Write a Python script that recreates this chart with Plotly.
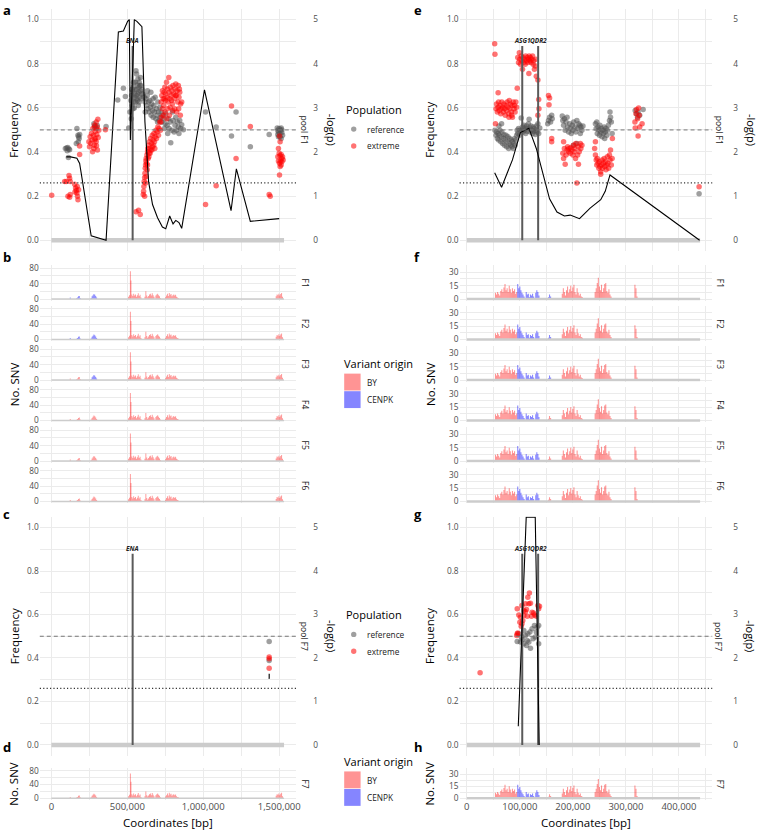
import plotly.graph_objects as go

W, H = 760, 833

# ---------------- data ----------------
CHR_IV_LEN = 1531933
CHR_IX_LEN = 439888
GENE_IV_NAMES = ["ENA"]
GENE_IV_POS = [535000]
GENE_IX_NAMES = ["ASG1", "QDR2"]
GENE_IX_POS = [104500, 134500]
GENE_HEIGHT = 0.88
NEUTRAL_FREQ = 0.5
SIG_LOGP = 1.30103

# chromosome IV, pool F1 : (position bp, allele frequency)
A_REF = [
    (92000, .416), (100000, .418), (108000, .42), (115000, .414), (120000, .41), (104000, .406), (112000, .375),
    (168000, .506), (175000, .476), (179000, .469), (183000, .461), (177000, .446), (186000, .479), (164000, .439),
    (280000, .528), (288000, .518), (295000, .506), (302000, .52), (284000, .512), (360000, .516),
    (437000, .636), (474000, .689), (487000, .651),
    (509000, .509), (517000, .581), (524000, .633), (528000, .656), (535000, .674), (539000, .693), (544000, .626),
    (548000, .663), (552000, .716), (557000, .768), (561000, .753), (563000, .683), (568000, .704), (570000, .731),
    (574000, .671), (576000, .693), (578000, .716), (581000, .648), (585000, .678), (587000, .738), (589000, .701),
    (594000, .663), (596000, .683), (533000, .611), (537000, .596), (546000, .648), (555000, .626), (559000, .656),
    (566000, .633), (572000, .611), (526000, .551), (550000, .683), (541000, .716), (578000, .626), (592000, .641),
    (531000, .683), (561000, .641), (583000, .701), (546000, .599), (568000, .663),
    (605000, .663), (611000, .648), (616000, .626), (622000, .641), (627000, .611), (631000, .656), (635000, .596),
    (640000, .626), (644000, .581), (648000, .633), (653000, .603), (657000, .566), (661000, .618), (666000, .588),
    (670000, .558), (675000, .611), (679000, .581), (683000, .648), (688000, .551), (692000, .596), (696000, .566),
    (701000, .626), (705000, .581), (709000, .543), (714000, .603), (718000, .558), (723000, .581), (727000, .536),
    (731000, .566), (740000, .551), (749000, .528), (753000, .573), (762000, .521), (771000, .551), (775000, .506),
    (784000, .536), (786000, .442), (793000, .499), (801000, .543), (808000, .491), (814000, .521), (823000, .499),
    (830000, .536), (836000, .513), (845000, .543), (851000, .506), (858000, .524), (869000, .501), (633000, .678),
    (655000, .671), (618000, .581), (670000, .641), (699000, .536), (744000, .506), (766000, .484), (797000, .581),
    (819000, .558), (840000, .484),
    (1015000, .581), (1085000, .513), (1186000, .473), (1216000, .581), (1310000, .424), (1434000, .479),
    (1487000, .509), (1491000, .499), (1495000, .491), (1500000, .506), (1504000, .484), (1508000, .499),
    (1513000, .509), (1517000, .488), (1522000, .476), (1506000, .469), (1495000, .469), (1513000, .461),
    (1491000, .479), (1517000, .501),
]
A_EXT = [
    (2000, .204),
    (87000, .266), (98000, .266), (116000, .293), (120000, .281), (124000, .266), (109000, .199), (120000, .195),
    (124000, .207), (153000, .254), (159000, .237), (164000, .225), (168000, .214), (172000, .199), (175000, .184),
    (179000, .229), (186000, .427), (186000, .389), (155000, .219), (170000, .244),
    (247000, .446), (251000, .424), (255000, .469), (260000, .439), (264000, .484), (268000, .454), (273000, .506),
    (277000, .476), (282000, .431), (284000, .521), (288000, .461), (290000, .494), (295000, .536), (295000, .446),
    (299000, .479), (301000, .513), (303000, .409), (306000, .548), (308000, .466), (312000, .499), (271000, .401),
    (280000, .416), (286000, .454), (297000, .428),
    (356000, .501),
    (605000, .207), (607000, .222), (609000, .244), (611000, .266), (614000, .284), (616000, .304), (618000, .326),
    (620000, .341), (622000, .359), (624000, .371), (627000, .349), (629000, .386), (631000, .319), (633000, .401),
    (635000, .416), (637000, .371), (640000, .431), (644000, .394), (646000, .446), (648000, .416), (653000, .461),
    (655000, .409), (659000, .439), (664000, .476), (666000, .424), (670000, .454), (675000, .484), (679000, .446),
    (683000, .469), (688000, .499), (692000, .461), (696000, .491), (701000, .513), (705000, .476), (709000, .506),
    (714000, .536), (718000, .499), (614000, .199), (620000, .259), (624000, .289), (633000, .341), (642000, .379),
    (650000, .394), (662000, .409), (673000, .431), (681000, .416),
    (723000, .626), (727000, .656), (731000, .678), (736000, .641), (740000, .611), (742000, .671), (747000, .693),
    (751000, .633), (753000, .663), (758000, .716), (762000, .648), (764000, .686), (768000, .626), (773000, .738),
    (775000, .671), (779000, .641), (784000, .693), (788000, .656), (793000, .678), (797000, .618), (801000, .701),
    (806000, .663), (810000, .641), (814000, .686), (819000, .708), (823000, .656), (827000, .678), (832000, .626),
    (836000, .701), (840000, .648), (845000, .671), (851000, .618), (858000, .626), (731000, .596), (749000, .581),
    (766000, .596), (782000, .603), (799000, .588), (812000, .596), (825000, .581), (838000, .596), (849000, .566),
    (738000, .566), (760000, .551), (777000, .566), (744000, .641), (791000, .633), (817000, .656), (843000, .686),
    (720000, .536), (725000, .558),
    (557000, .129), (574000, .136), (585000, .117),
    (1015000, .162), (1085000, .247), (1186000, .608), (1216000, .37), (1310000, .516), (1434000, .207), (1441000, .199),
    (1502000, .472), (1506000, .446), (1495000, .416), (1500000, .394), (1506000, .383), (1513000, .389),
    (1517000, .371), (1491000, .379), (1495000, .359), (1502000, .349), (1508000, .359), (1522000, .379),
    (1526000, .364), (1506000, .334), (1502000, .296), (1513000, .341), (1517000, .356),
]
A_LOGP = [
    (98000, 1.89), (127000, 1.89), (168000, 1.86), (186000, 1.74), (262000, 0.10), (360000, 0.0), (441000, 4.72),
    (474000, 4.74), (502000, 4.96), (513000, 5.0), (520000, 2.27), (546000, 5.0), (563000, 4.96), (596000, 4.84),
    (616000, 2.68), (640000, 1.33), (666000, 0.81), (699000, 0.51), (731000, 0.30), (753000, 0.26), (779000, 0.55),
    (801000, 0.37), (819000, 0.45), (840000, 0.40), (858000, 0.27), (1008000, 3.41), (1183000, 0.67),
    (1218000, 1.62), (1310000, 0.43), (1500000, 0.49),
]
# chromosome IV, pool F7
C_REF = [(1434000, .476), (1434000, .389)]
C_EXT = [(1434000, .404), (1434000, .396), (1434000, .353)]
C_LOGP = [(1434000, 1.64), (1434200, 1.52)]

# chromosome IX, pool F1
E_REF = [
    (53000, .499), (55000, .476), (56000, .491), (57500, .461), (59000, .484), (60000, .454), (61000, .476),
    (62500, .499), (64000, .446), (65000, .469), (66000, .491), (67500, .439), (69000, .461), (70000, .479),
    (71000, .431), (72500, .454), (74000, .476), (75000, .424), (76000, .446), (77500, .469), (79000, .416),
    (80000, .439), (81000, .461), (82500, .431), (84000, .454), (85000, .424), (86000, .446), (87500, .416),
    (89000, .439), (90000, .461), (91000, .431), (92500, .454), (94000, .476), (95000, .499), (96000, .484),
    (97500, .506), (99000, .476), (100000, .499), (65500, .528), (60500, .518),
    (102500, .554),
    (104000, .499), (105000, .513), (106000, .491), (107500, .521), (109000, .499), (110000, .509), (111000, .484),
    (112500, .518), (114000, .494), (115000, .506), (116000, .528), (117500, .548), (119000, .509), (120000, .491),
    (121000, .518), (122500, .499), (124000, .484), (125000, .513), (126000, .494), (127500, .506), (129000, .479),
    (130000, .499), (131000, .518), (132500, .491), (134000, .528), (135500, .484), (137500, .509),
    (152500, .528), (154000, .543), (156000, .558), (158000, .536), (160000, .566), (161000, .551),
    (180000, .563), (181000, .543), (182500, .521), (184000, .551), (185500, .499), (187000, .536), (189000, .558),
    (190000, .513), (192000, .491), (194000, .528), (195000, .506), (197000, .484), (199000, .521), (200000, .499),
    (201500, .536), (204000, .513), (205500, .491), (207500, .543), (209000, .506), (211000, .528), (213000, .521),
    (215000, .513), (217000, .499), (219000, .518), (201000, .431), (207500, .439), (214000, .484),
    (242500, .528), (244000, .506), (245000, .536), (246000, .484), (247500, .513), (249000, .499), (250000, .476),
    (251000, .521), (252500, .491), (254000, .506), (255000, .469), (256000, .499), (257500, .484), (259000, .513),
    (260000, .461), (261000, .491), (262500, .506), (264000, .476), (265000, .499), (267000, .521), (269000, .543),
    (270000, .581), (271000, .558), (272500, .536), (274000, .484),
    (317500, .588), (320000, .573), (323000, .581), (326000, .566), (332500, .593), (322000, .558),
    (438000, .211),
]
E_EXT = [
    (52500, .891), (53000, .843), (54000, .528), (59000, .668),
    (55000, .596), (56000, .618), (57500, .581), (59000, .603), (60000, .626), (61000, .588), (62500, .611),
    (64000, .573), (65000, .596), (66000, .626), (67500, .603), (69000, .581), (70000, .618), (71000, .596),
    (72500, .566), (74000, .611), (75000, .588), (76000, .626), (77500, .603), (79000, .573), (80000, .633),
    (81000, .596), (82500, .618), (84000, .581), (85000, .611), (86000, .558), (87500, .626), (89000, .596),
    (90000, .611), (91000, .581), (92500, .626), (94000, .603), (84500, .566), (79500, .558),
    (95000, .689),
    (96000, .828), (97500, .805), (99000, .850), (100000, .820), (101000, .798), (102500, .835), (104000, .813),
    (105000, .775), (106000, .828), (107500, .805), (109000, .820), (110000, .798), (111000, .835), (112500, .813),
    (114000, .828), (115000, .805), (116000, .820), (117000, .756), (117500, .835), (119000, .813), (120000, .828),
    (121000, .805), (122500, .820), (124000, .835), (125000, .798), (126000, .813), (127500, .775), (129000, .790),
    (130000, .820),
    (131000, .743), (134000, .726), (135500, .638), (136000, .596), (134000, .566),
    (154000, .656), (156000, .645), (155000, .614), (160000, .461), (160000, .446),
    (181000, .394), (182500, .371), (184000, .416), (185500, .344), (187000, .386), (189000, .409), (190000, .424),
    (192000, .401), (193000, .416), (195000, .394), (196000, .419), (198000, .409), (200000, .386), (201000, .431),
    (202500, .401), (204000, .416), (205500, .439), (207500, .259), (209000, .386), (210000, .424), (212000, .401),
    (214000, .439), (215000, .416), (217000, .431), (210500, .344), (182500, .446), (205000, .371),
    (241000, .416), (242500, .386), (244000, .364), (245000, .341), (246000, .371), (247500, .349), (249000, .326),
    (250000, .356), (251000, .334), (252500, .311), (254000, .341), (255000, .364), (256000, .326), (257500, .349),
    (259000, .371), (260000, .334), (261000, .356), (262500, .319), (264000, .341), (265000, .379), (266000, .349),
    (267500, .326), (269000, .386), (270000, .364), (271000, .409), (272500, .341), (274000, .371), (274500, .461),
    (242500, .446), (252500, .299),
    (317000, .536), (319000, .573), (320000, .593), (322000, .551), (324000, .599), (325000, .566), (326000, .513),
    (323000, .472), (330500, .528), (317500, .509),
    (438000, .243),
]
E_LOGP = [
    (52500, 1.53), (65500, 1.20), (76000, 1.52), (86000, 1.82), (101000, 2.44), (117000, 2.54), (131000, 2.08),
    (156000, 0.94), (170000, 0.64), (184000, 0.55), (195000, 0.57), (212500, 0.49), (232500, 0.73),
    (247000, 0.88), (252500, 0.92), (261000, 1.11), (270000, 1.48), (439000, 0.0),
]
# chromosome IX, pool F7
G_REF = [
    (95000, .476), (101000, .473), (107500, .465), (112500, .457), (120000, .445), (115000, .511), (123000, .534),
    (127500, .549), (132500, .541), (135500, .549), (135500, .465), (129000, .496), (107500, .526), (110500, .503),
    (119000, .519), (102500, .496), (98000, .511), (105000, .485), (114000, .480), (125000, .488), (117000, .473),
    (131000, .519),
]
G_EXT = [
    (25000, .332),
    (118000, .699), (115000, .679), (117000, .649), (120000, .652), (110500, .649), (104000, .641), (95000, .626),
    (98000, .598), (101000, .587), (107500, .595), (114000, .592), (122000, .592), (126000, .607), (131000, .592),
    (134000, .641), (137000, .638), (135500, .626), (104000, .557), (105500, .572), (107500, .618), (95000, .511),
    (94000, .503), (112500, .623), (123000, .610), (100000, .564), (102500, .546), (110500, .613), (128000, .598),
    (96000, .515),
]
G_LOGP = [(97000, 0.43), (112000, 5.24), (129000, 5.24), (136500, 0.0)]

# SNV counts per bin (identical bins in every pool); region codes used for origin
SNV_IV_BIN = 6000
SNV_IV = [
    (124000, 4, "A"),
    (166000, 2, "B"), (172000, 4, "B"), (178000, 7, "B"), (184000, 8, "B"), (190000, 3, "B"),
    (262000, 3, "C"), (268000, 7, "C"), (274000, 10, "C"), (280000, 13, "C"), (286000, 11, "C"), (292000, 8, "C"),
    (298000, 4, "C"),
    (508000, 6, "D"), (514000, 10, "D"), (520000, 72, "D"), (524000, 48, "D"), (530000, 12, "D"), (536000, 8, "D"),
    (542000, 14, "D"), (548000, 9, "D"), (554000, 12, "D"), (560000, 6, "D"), (566000, 10, "D"), (572000, 15, "D"),
    (578000, 8, "D"), (584000, 11, "D"), (590000, 4, "D"),
    (616000, 6, "E"), (622000, 20, "E"), (628000, 9, "E"), (634000, 5, "E"), (640000, 8, "E"), (646000, 12, "E"),
    (652000, 14, "E"), (658000, 9, "E"), (664000, 15, "E"), (670000, 10, "E"), (676000, 6, "E"), (688000, 9, "E"),
    (694000, 12, "E"), (700000, 14, "E"), (706000, 10, "E"), (712000, 7, "E"), (718000, 3, "E"),
    (752000, 5, "F"), (758000, 9, "F"), (764000, 14, "F"), (770000, 8, "F"), (776000, 16, "F"), (782000, 11, "F"),
    (788000, 13, "F"), (794000, 7, "F"), (800000, 10, "F"), (806000, 12, "F"), (812000, 9, "F"), (818000, 11, "F"),
    (824000, 6, "F"), (830000, 4, "F"), (836000, 3, "F"),
    (1480000, 7, "G"), (1486000, 12, "G"), (1492000, 10, "G"), (1498000, 14, "G"), (1504000, 9, "G"),
    (1510000, 13, "G"), (1516000, 16, "G"), (1522000, 6, "G"),
]
SNV_IX_BIN = 2000
SNV_IX = [
    (54000, 7, "P1"), (56000, 5, "P1"), (58000, 8, "P1"), (60000, 6, "P1"), (62000, 4, "P1"), (64000, 9, "P1"),
    (66000, 11, "P1"), (68000, 8, "P1"), (70000, 13, "P1"), (72000, 17, "P1"), (74000, 10, "P1"), (76000, 12, "P1"),
    (78000, 8, "P1"), (80000, 15, "P1"), (82000, 11, "P1"), (84000, 7, "P1"), (86000, 12, "P1"), (88000, 9, "P1"),
    (90000, 11, "P1"), (92000, 6, "P1"), (94000, 8, "P1"),
    (96000, 17, "P2"), (98000, 12, "P2"), (100000, 14, "P2"), (102000, 10, "P2"), (104000, 7, "P2"),
    (106000, 5, "P2"), (108000, 3, "P2"), (112000, 8, "P2"), (114000, 5, "P2"), (116000, 6, "P2"),
    (118000, 2, "P2"), (120000, 5, "P2"), (122000, 4, "P2"), (124000, 6, "P2"), (126000, 3, "P2"),
    (130000, 7, "P2"), (132000, 10, "P2"), (134000, 8, "P2"), (136000, 4, "P2"),
    (154000, 2, "P3"), (156000, 5, "P3"), (158000, 3, "P3"),
    (180000, 6, "P4"), (182000, 12, "P4"), (184000, 8, "P4"), (186000, 4, "P4"), (188000, 10, "P4"),
    (190000, 14, "P4"), (192000, 7, "P4"), (194000, 11, "P4"), (196000, 15, "P4"), (198000, 9, "P4"),
    (200000, 13, "P4"), (202000, 16, "P4"), (204000, 8, "P4"), (206000, 5, "P4"), (208000, 12, "P4"),
    (210000, 7, "P4"), (212000, 4, "P4"), (214000, 6, "P4"), (216000, 3, "P4"), (218000, 2, "P4"),
    (242000, 8, "P5"), (244000, 12, "P5"), (246000, 18, "P5"), (248000, 24, "P5"), (250000, 14, "P5"),
    (252000, 10, "P5"), (254000, 16, "P5"), (256000, 8, "P5"), (258000, 12, "P5"), (260000, 17, "P5"),
    (262000, 18, "P5"), (264000, 9, "P5"), (266000, 7, "P5"), (268000, 11, "P5"), (270000, 5, "P5"),
    (272000, 3, "P5"),
    (317000, 16, "P6"), (319000, 12, "P6"), (321000, 3, "P6"),
]
POOLS = ["F1", "F2", "F3", "F4", "F5", "F6", "F7"]
# regions whose SNVs come from CENPK in each pool (all others BY)
CENPK_IV = {"F1": ["A", "B", "C"], "F2": ["A", "B", "C"], "F3": ["C"], "F4": [], "F5": [], "F6": [], "F7": []}
CENPK_IX = {"F1": ["P2", "P3"], "F2": ["P2", "P3"], "F3": ["P2", "P3"], "F4": ["P2"], "F5": ["P2"],
            "F6": ["P2"], "F7": ["P2"]}

FREQ_TICKS = [0, 0.2, 0.4, 0.6, 0.8, 1.0]
FREQ_MINOR = [0.1, 0.3, 0.5, 0.7, 0.9]
LOGP_TICKS = [0, 1, 2, 3, 4, 5]
SNV_IV_TICKS = [0, 40, 80]
SNV_IV_MINOR = [20, 60]
SNV_IX_TICKS = [0, 15, 30]
SNV_IX_MINOR = [7.5, 22.5]
POS_IV_TICKS = [0, 500000, 1000000, 1500000]
POS_IV_MINOR = [250000, 750000, 1250000]
POS_IX_TICKS = [0, 100000, 200000, 300000, 400000]
POS_IX_MINOR = [50000, 150000, 250000, 350000, 450000]

# ---------------- styling / geometry ----------------
FONT = "Open Sans"
GRID = "#ebebeb"
TICKC = "#4d4d4d"
REF_COL = "rgba(80,80,80,0.55)"
EXT_COL = "rgba(255,0,0,0.55)"
BY_COL = "rgba(255,0,0,0.42)"
CENPK_COL = "rgba(0,0,255,0.48)"
CHROM_COL = "#cccccc"

layout = dict(width=W, height=H, margin=dict(l=0, r=0, t=0, b=0), autosize=False,
              paper_bgcolor="white", plot_bgcolor="white", showlegend=False, barmode="overlay",
              font=dict(family=FONT, color=TICKC, size=8))
annotations, shapes, traces = [], [], []
counters = {"x": 0, "y": 0}


def new_ax(kind):
    counters[kind] += 1
    n = counters[kind]
    s = "" if n == 1 else str(n)
    return kind + s, kind + "axis" + s


def make_panel(xdom, ydom, xr, xt, xm, yr, yt, ym, yfmt, xlabels):
    xn, xk = new_ax("x")
    yn, yk = new_ax("y")
    layout[xk] = dict(domain=[xdom[0] / W, xdom[1] / W], range=xr, anchor=yn,
                      tickmode="array", tickvals=xt, showticklabels=xlabels, tickformat=",d", ticks="",
                      showgrid=True, gridcolor=GRID, gridwidth=1, zeroline=False, showline=False,
                      minor=dict(tickmode="array", tickvals=xm, showgrid=True, gridcolor=GRID, gridwidth=0.6),
                      tickfont=dict(size=9.5, color=TICKC))
    layout[yk] = dict(domain=[1 - ydom[1] / H, 1 - ydom[0] / H], range=yr, anchor=xn,
                      tickmode="array", tickvals=yt, tickformat=yfmt, ticks="",
                      showgrid=True, gridcolor=GRID, gridwidth=1, zeroline=False, showline=False,
                      minor=dict(tickmode="array", tickvals=ym, showgrid=True, gridcolor=GRID, gridwidth=0.6),
                      tickfont=dict(size=8.3, color=TICKC))
    return xn, yn


def make_overlay(base_yn, xpos, yr):
    yn, yk = new_ax("y")
    layout[yk] = dict(overlaying=base_yn, side="right", anchor="free", position=xpos / W, range=yr,
                      tickmode="array", tickvals=LOGP_TICKS, ticks="", showgrid=False, zeroline=False,
                      showline=False, tickfont=dict(size=8.3, color=TICKC))
    return yn


def ann(text, x, y, size, color="#000000", angle=0, xanchor="center", yanchor="middle"):
    annotations.append(dict(text=text, x=x / W, y=1 - y / H, xref="paper", yref="paper", showarrow=False,
                            font=dict(size=size, color=color, family=FONT), textangle=angle,
                            xanchor=xanchor, yanchor=yanchor))


def freq_panel(xdom, ytop, ybot, xr, xt, xm, chrlen, gnames, gpos, ref, ext, logp, sec_x):
    xn, yn = make_panel(xdom, (ytop, ybot), xr, xt, xm, [-0.05, 1.05], FREQ_TICKS, FREQ_MINOR, ".1f", False)
    y2 = make_overlay(yn, sec_x, [-0.25, 5.25])
    traces.append(go.Scatter(x=[0, chrlen], y=[0, 0], mode="lines", line=dict(color=CHROM_COL, width=4.5),
                             xaxis=xn, yaxis=yn, hoverinfo="skip"))
    shapes.append(dict(type="line", xref=xn + " domain", yref=yn, x0=0, x1=1, y0=NEUTRAL_FREQ, y1=NEUTRAL_FREQ,
                       line=dict(color="#777777", width=1, dash="4px,3px")))
    shapes.append(dict(type="line", xref=xn + " domain", yref=y2, x0=0, x1=1, y0=SIG_LOGP, y1=SIG_LOGP,
                       line=dict(color="#333333", width=1.1, dash="1.2px,2.2px")))
    traces.append(go.Scatter(x=[p[0] for p in ref], y=[p[1] for p in ref], mode="markers",
                             marker=dict(color=REF_COL, size=5.5, line=dict(width=0)), xaxis=xn, yaxis=yn))
    traces.append(go.Scatter(x=[p[0] for p in ext], y=[p[1] for p in ext], mode="markers",
                             marker=dict(color=EXT_COL, size=5.5, line=dict(width=0)), xaxis=xn, yaxis=yn))
    gx, gy = [], []
    for g in gpos:
        gx += [g, g, None]
        gy += [0, GENE_HEIGHT, None]
    traces.append(go.Scatter(x=gx, y=gy, mode="lines", line=dict(color="#5a5a5a", width=2),
                             xaxis=xn, yaxis=yn, hoverinfo="skip"))
    for name, g in zip(gnames, gpos):
        annotations.append(dict(text="<b><i>%s</i></b>" % name, x=g, y=GENE_HEIGHT, xref=xn, yref=yn,
                                showarrow=False, yanchor="bottom", borderpad=0,
                                font=dict(size=6.5, color="#222222", family=FONT)))
    traces.append(go.Scatter(x=[p[0] for p in logp], y=[p[1] for p in logp], mode="lines",
                             line=dict(color="black", width=1.1), xaxis=xn, yaxis=y2, hoverinfo="skip"))


def snv_panel(xdom, ytop, ybot, xr, xt, xm, yr, yt, ym, chrlen, snv, binw, cenpk_regions, xlabels, chrom_w):
    xn, yn = make_panel(xdom, (ytop, ybot), xr, xt, xm, yr, yt, ym, "d", xlabels)
    traces.append(go.Scatter(x=[0, chrlen], y=[0, 0], mode="lines", line=dict(color=CHROM_COL, width=chrom_w),
                             xaxis=xn, yaxis=yn, hoverinfo="skip"))
    by = [s for s in snv if s[2] not in cenpk_regions]
    ce = [s for s in snv if s[2] in cenpk_regions]
    for group, col in ((by, BY_COL), (ce, CENPK_COL)):
        if group:
            traces.append(go.Bar(x=[s[0] for s in group], y=[s[1] for s in group], width=binw,
                                 marker=dict(color=col, line=dict(width=0)), xaxis=xn, yaxis=yn))


LEFT_X, RIGHT_X = (40, 298), (462, 716)
IV_RANGE, IX_RANGE = [-76400, 1613500], [-13700, 462800]
FREQ_TOP, FREQ_BOT = (5.6, 250.1), (517.4, 758.3)
FACET_ZERO = [298.2 + 40.8 * i for i in range(6)]
SNV_IV_RANGE, SNV_IX_RANGE = [-4.2, 88], [-1.815, 37.985]
BOT_BOX = (770.5, 802.5)

cols = [
    dict(xdom=LEFT_X, xr=IV_RANGE, xt=POS_IV_TICKS, xm=POS_IV_MINOR, chrlen=CHR_IV_LEN, gn=GENE_IV_NAMES,
         gp=GENE_IV_POS, f1=(A_REF, A_EXT, A_LOGP), f7=(C_REF, C_EXT, C_LOGP), snv=SNV_IV, binw=SNV_IV_BIN,
         cen=CENPK_IV, yr=SNV_IV_RANGE, yt=SNV_IV_TICKS, ym=SNV_IV_MINOR, chrom_w=1.5,
         sec=314, strip=307, logp_t=333, ytitle=14, letters="abcd", lx=1),
    dict(xdom=RIGHT_X, xr=IX_RANGE, xt=POS_IX_TICKS, xm=POS_IX_MINOR, chrlen=CHR_IX_LEN, gn=GENE_IX_NAMES,
         gp=GENE_IX_POS, f1=(E_REF, E_EXT, E_LOGP), f7=(G_REF, G_EXT, G_LOGP), snv=SNV_IX, binw=SNV_IX_BIN,
         cen=CENPK_IX, yr=SNV_IX_RANGE, yt=SNV_IX_TICKS, ym=SNV_IX_MINOR, chrom_w=2.5,
         sec=736, strip=724, logp_t=755, ytitle=432, letters="efgh", lx=414),
]

for c in cols:
    freq_panel(c["xdom"], FREQ_TOP[0], FREQ_TOP[1], c["xr"], c["xt"], c["xm"], c["chrlen"], c["gn"], c["gp"],
               *c["f1"], c["sec"])
    for i, pool in enumerate(POOLS[:6]):
        z = FACET_ZERO[i]
        snv_panel(c["xdom"], z - 34.1, z + 1.63, c["xr"], c["xt"], c["xm"], c["yr"], c["yt"], c["ym"],
                  c["chrlen"], c["snv"], c["binw"], c["cen"][pool], False, c["chrom_w"])
        ann(pool, c["strip"], z - 16.2, 8.5, "#1a1a1a", angle=90)
    freq_panel(c["xdom"], FREQ_BOT[0], FREQ_BOT[1], c["xr"], c["xt"], c["xm"], c["chrlen"], c["gn"], c["gp"],
               *c["f7"], c["sec"])
    snv_panel(c["xdom"], BOT_BOX[0], BOT_BOX[1], c["xr"], c["xt"], c["xm"], c["yr"], c["yt"], c["ym"],
              c["chrlen"], c["snv"], c["binw"], c["cen"]["F7"], True, c["chrom_w"])
    ann("F7", c["strip"], 786.5, 8.5, "#1a1a1a", angle=90)
    ftop_c = (FREQ_TOP[0] + FREQ_TOP[1]) / 2
    fbot_c = (FREQ_BOT[0] + FREQ_BOT[1]) / 2
    ann("pool F1", c["strip"] - 1, ftop_c, 8.5, "#1a1a1a", angle=90)
    ann("pool F7", c["strip"] - 1, fbot_c, 8.5, "#1a1a1a", angle=90)
    ann("-log(p)", c["logp_t"], ftop_c, 11, "#000000", angle=90)
    ann("-log(p)", c["logp_t"], fbot_c, 11, "#000000", angle=90)
    ann("Frequency", c["ytitle"], ftop_c, 11.5, "#000000", angle=-90)
    ann("Frequency", c["ytitle"], fbot_c, 11.5, "#000000", angle=-90)
    ann("No. SNV", c["ytitle"], (FACET_ZERO[0] - 34.1 + FACET_ZERO[5] + 1.63) / 2, 11.5, "#000000", angle=-90)
    ann("No. SNV", c["ytitle"], (BOT_BOX[0] + BOT_BOX[1]) / 2, 11.5, "#000000", angle=-90)
    ann("Coordinates [bp]", (c["xdom"][0] + c["xdom"][1]) / 2, 825, 11.5, "#000000")
    for L, yy in zip(c["letters"], (7.5, 256, 515, 749)):
        ann("<b>%s</b>" % L, c["lx"], yy, 13, "#000000", xanchor="left")


# manual legends
def pop_legend(ty):
    ann("Population", 346, ty, 11, "#000000", xanchor="left")
    for lab, col, yy in (("reference", REF_COL, ty + 20), ("extreme", EXT_COL, ty + 37)):
        shapes.append(dict(type="circle", xref="paper", yref="paper", x0=(355.6 - 2.7) / W, x1=(355.6 + 2.7) / W,
                           y0=1 - (yy + 2.7) / H, y1=1 - (yy - 2.7) / H, fillcolor=col, line=dict(width=0)))
        ann(lab, 367, yy, 8.3, "#1a1a1a", xanchor="left")


def var_legend(ty):
    ann("Variant origin", 344, ty, 11, "#000000", xanchor="left")
    for lab, col, y0 in (("BY", BY_COL, ty + 10), ("CENPK", CENPK_COL, ty + 27.7)):
        shapes.append(dict(type="rect", xref="paper", yref="paper", x0=346 / W, x1=362.5 / W,
                           y0=1 - (y0 + 17) / H, y1=1 - y0 / H, fillcolor=col, line=dict(width=0)))
        ann(lab, 367, y0 + 8.7, 8.3, "#1a1a1a", xanchor="left")


pop_legend(107)
var_legend(363.3)
pop_legend(616)
var_legend(764)

fig = go.Figure(data=traces)
layout["annotations"] = annotations
layout["shapes"] = shapes
fig.update_layout(**layout)
fig.write_html("out.html")
